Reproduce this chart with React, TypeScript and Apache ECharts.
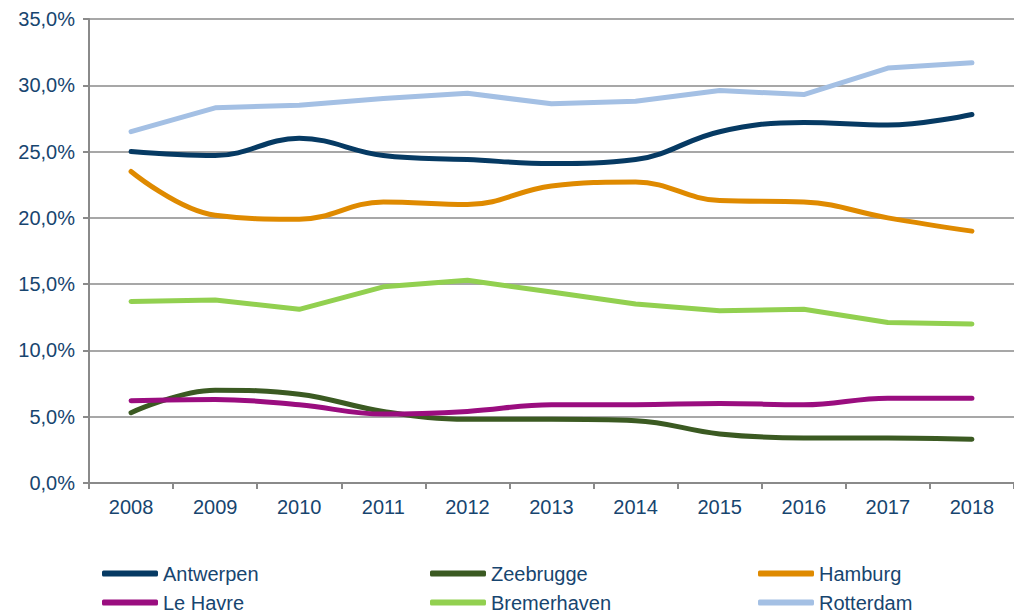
import React, { useEffect, useRef } from "react";
import * as echarts from "echarts";

const years = ["2008", "2009", "2010", "2011", "2012", "2013", "2014", "2015", "2016", "2017", "2018"];
const antwerpen = [25.0, 24.7, 26.0, 24.7, 24.4, 24.1, 24.4, 26.5, 27.2, 27.0, 27.8];
const zeebrugge = [5.3, 7.0, 6.7, 5.4, 4.8, 4.8, 4.7, 3.7, 3.4, 3.4, 3.3];
const hamburg = [23.5, 20.2, 19.9, 21.2, 21.0, 22.4, 22.7, 21.3, 21.2, 20.0, 19.0];
const leHavre = [6.2, 6.3, 5.9, 5.2, 5.4, 5.9, 5.9, 6.0, 5.9, 6.4, 6.4];
const bremerhaven = [13.7, 13.8, 13.1, 14.8, 15.3, 14.4, 13.5, 13.0, 13.1, 12.1, 12.0];
const rotterdam = [26.5, 28.3, 28.5, 29.0, 29.4, 28.6, 28.8, 29.6, 29.3, 31.3, 31.7];

const seriesNames = ["Antwerpen", "Zeebrugge", "Hamburg", "Le Havre", "Bremerhaven", "Rotterdam"];
const seriesData = [antwerpen, zeebrugge, hamburg, leHavre, bremerhaven, rotterdam];
const seriesColors = ["#063A63", "#3B5A22", "#DF8A00", "#9A0D7F", "#92D050", "#A4C0E4"];
const seriesSmooth = [0.4, 0.4, 0.4, 0.4, false, false];

const textColor = "#17456F";
const axisColor = "#8A8A8A";
const font = "'Liberation Sans', Arial, sans-serif";

export default function App() {
  const ref = useRef<HTMLDivElement>(null);
  useEffect(() => {
    if (!ref.current) return;
    const chart = echarts.init(ref.current, undefined, { renderer: "svg" });
    const legendCols = [
      { left: 102, data: ["Antwerpen", "Le Havre"] },
      { left: 430, data: ["Zeebrugge", "Bremerhaven"] },
      { left: 758, data: ["Hamburg", "Rotterdam"] },
    ];
    chart.setOption({
      animation: false,
      textStyle: { fontFamily: font },
      grid: { left: 89, right: -7, top: 19, bottom: 131, containLabel: false },
      legend: legendCols.map((c) => ({
        orient: "vertical",
        left: c.left,
        top: 563,
        data: c.data,
        icon: "roundRect",
        itemWidth: 56,
        itemHeight: 6,
        itemGap: 8,
        padding: 0,
        textStyle: { fontSize: 20, lineHeight: 21, color: textColor, fontFamily: font },
      })),
      xAxis: {
        type: "category",
        data: years,
        boundaryGap: true,
        axisLine: { show: true, lineStyle: { color: axisColor, width: 2 } },
        axisTick: { show: true, length: 6, lineStyle: { color: axisColor, width: 2 } },
        axisLabel: { color: textColor, fontSize: 20, margin: 14, fontFamily: font },
        splitLine: { show: false },
      },
      yAxis: {
        type: "value",
        min: 0,
        max: 35,
        interval: 5,
        axisLine: { show: true, lineStyle: { color: axisColor, width: 2 } },
        axisTick: { show: true, length: 6, lineStyle: { color: axisColor, width: 2 } },
        axisLabel: {
          color: textColor,
          fontSize: 20,
          margin: 14,
          fontFamily: font,
          formatter: (v: number) => v.toFixed(1).replace(".", ",") + "%",
        },
        splitLine: { show: true, lineStyle: { color: axisColor, width: 1.5 } },
      },
      series: seriesNames.map((name, i) => ({
        name,
        type: "line",
        data: seriesData[i],
        smooth: seriesSmooth[i],
        showSymbol: false,
        symbol: "none",
        color: seriesColors[i],
        lineStyle: { width: 5, color: seriesColors[i], cap: "round", join: "round" },
      })),
    });
    return () => chart.dispose();
  }, []);
  return (
    <div
      ref={ref}
      style={{ position: "absolute", left: 0, top: 0, width: 1014, height: 614 }}
    />
  );
}
